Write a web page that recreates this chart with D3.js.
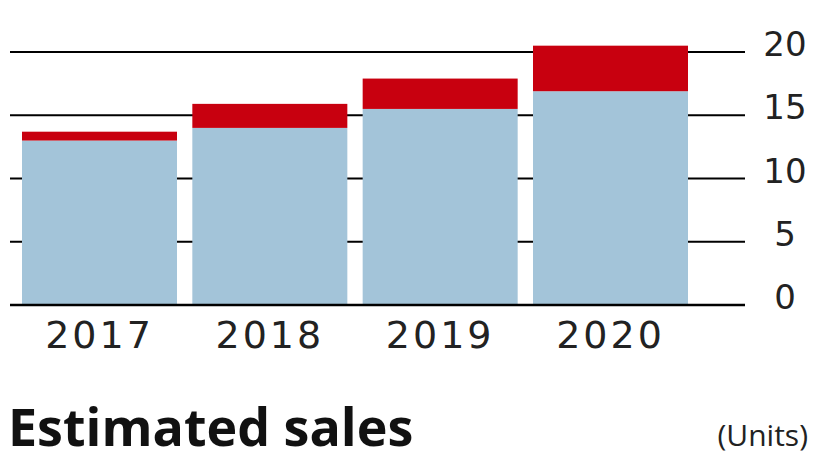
<!DOCTYPE html><html><head><meta charset="utf-8">
<script src="https://cdn.jsdelivr.net/npm/d3@7"></script>
<style>body{margin:0;background:#fff}</style></head><body>
<svg id="c" width="826" height="465"></svg>
<script>
const years=["2017","2018","2019","2020"];
const baseVals=[13.0,14.0,15.5,16.9];
const topVals=[0.7,1.9,2.4,3.6];
const ticks=[0,5,10,15,20];
const svg=d3.select("#c");
const y=d3.scaleLinear().domain([0,20]).range([305,52]);
const x=d3.scaleBand().domain(years).range([22,688]).paddingInner(0.09).paddingOuter(0);
svg.append("g").selectAll("line").data(ticks).join("line")
 .attr("x1",10).attr("x2",745).attr("y1",d=>y(d)).attr("y2",d=>y(d))
 .attr("stroke","#000").attr("stroke-width",2);
svg.append("g").selectAll("text").data(ticks).join("text")
 .attr("x",785).attr("y",d=>y(d)+4).attr("text-anchor","middle")
 .attr("font-family","DejaVu Sans").attr("font-size",34).attr("fill","#222").text(d=>d);
svg.append("g").selectAll("rect").data(years).join("rect")
 .attr("x",d=>x(d)).attr("width",x.bandwidth())
 .attr("y",(d,i)=>y(baseVals[i])).attr("height",(d,i)=>y(0)-y(baseVals[i])).attr("fill","#a3c4d9");
svg.append("g").selectAll("rect").data(years).join("rect")
 .attr("x",d=>x(d)).attr("width",x.bandwidth())
 .attr("y",(d,i)=>y(baseVals[i]+topVals[i])).attr("height",(d,i)=>y(baseVals[i])-y(baseVals[i]+topVals[i])).attr("fill","#c8000f");
svg.append("line").attr("x1",10).attr("x2",745).attr("y1",y(0)).attr("y2",y(0)).attr("stroke","#000").attr("stroke-width",2.5);
svg.append("g").selectAll("text").data(years).join("text")
 .attr("x",d=>x(d)+x.bandwidth()/2).attr("y",348).attr("text-anchor","middle")
 .attr("font-family","DejaVu Sans").attr("font-size",38).attr("letter-spacing",3).attr("fill","#222").text(d=>d);
svg.append("text").attr("x",8).attr("y",446).attr("font-family","Open Sans").attr("font-weight","bold")
 .attr("font-size",52).attr("fill","#111").text("Estimated sales");
svg.append("text").attr("x",808).attr("y",446).attr("text-anchor","end").attr("font-family","Open Sans")
 .attr("font-size",30).attr("fill","#222").text("(Units)");
</script></body></html>
